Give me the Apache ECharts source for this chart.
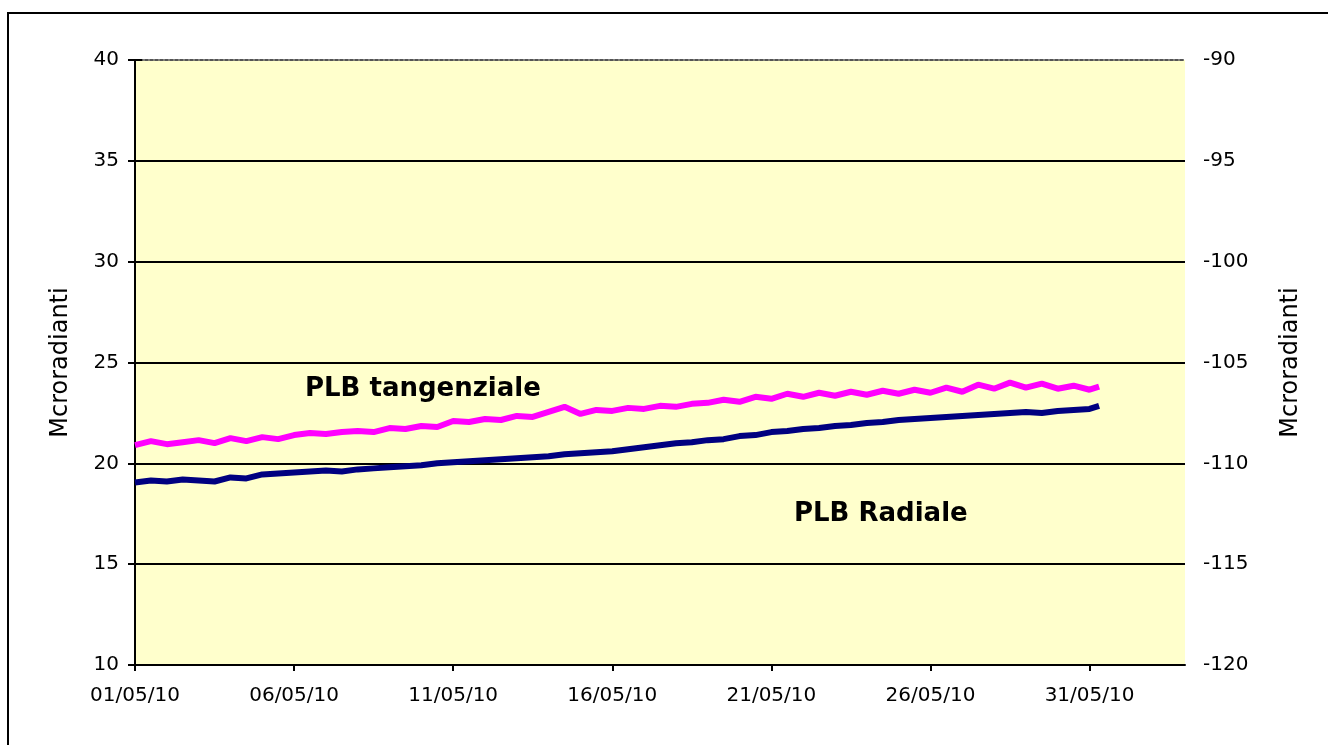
<!DOCTYPE html>
<html>
<head>
<meta charset="utf-8">
<title>PLB</title>
<script src="https://cdn.jsdelivr.net/npm/echarts@6/dist/echarts.min.js"></script>
<style>
  html, body { margin: 0; padding: 0; background: #fff; }
  #chart { width: 1328px; height: 745px; }
</style>
</head>
<body>
<div id="chart"></div>
<script>
// giorni dal 01/05/10 (passo mezza giornata)
var days = [0, 0.5, 1, 1.5, 2, 2.5, 3, 3.5, 4, 4.5, 5, 5.5, 6, 6.5, 7, 7.5, 8, 8.5, 9, 9.5,
  10, 10.5, 11, 11.5, 12, 12.5, 13, 13.5, 14, 14.5, 15, 15.5, 16, 16.5, 17, 17.5, 18, 18.5, 19, 19.5,
  20, 20.5, 21, 21.5, 22, 22.5, 23, 23.5, 24, 24.5, 25, 25.5, 26, 26.5, 27, 27.5, 28, 28.5, 29, 29.5,
  30, 30.3];

// PLB tangenziale (microradianti)
var tangenziale = [20.9, 21.1, 20.95, 21.05, 21.15, 21.0, 21.25, 21.1, 21.3, 21.2, 21.4, 21.5, 21.45, 21.55, 21.6, 21.55, 21.75, 21.7, 21.85, 21.8,
  22.1, 22.05, 22.2, 22.15, 22.35, 22.3, 22.55, 22.8, 22.45, 22.65, 22.6, 22.75, 22.7, 22.85, 22.8, 22.95, 23.0, 23.15, 23.05, 23.3,
  23.2, 23.45, 23.3, 23.5, 23.35, 23.55, 23.4, 23.6, 23.45, 23.65, 23.5, 23.75, 23.55, 23.9, 23.7, 24.0, 23.75, 23.95, 23.7, 23.85,
  23.65, 23.8];

// PLB radiale (microradianti)
var radiale = [19.05, 19.15, 19.1, 19.2, 19.15, 19.1, 19.3, 19.25, 19.45, 19.5, 19.55, 19.6, 19.65, 19.6, 19.7, 19.75, 19.8, 19.85, 19.9, 20.0,
  20.05, 20.1, 20.15, 20.2, 20.25, 20.3, 20.35, 20.45, 20.5, 20.55, 20.6, 20.7, 20.8, 20.9, 21.0, 21.05, 21.15, 21.2, 21.35, 21.4,
  21.55, 21.6, 21.7, 21.75, 21.85, 21.9, 22.0, 22.05, 22.15, 22.2, 22.25, 22.3, 22.35, 22.4, 22.45, 22.5, 22.55, 22.5, 22.6, 22.65,
  22.7, 22.85];

// etichette asse x (ogni 5 giorni)
var xTickLabels = ['01/05/10', '06/05/10', '11/05/10', '16/05/10', '21/05/10', '26/05/10', '31/05/10'];

function pairs(ys) {
  return days.map(function (d, i) { return [d, ys[i]]; });
}

var font = '"DejaVu Sans", Arial, sans-serif';
var labelStyle = { color: '#000', fontSize: 20, fontFamily: font };
var nameStyle = { color: '#000', fontSize: 24, fontFamily: font };

var chart = echarts.init(document.getElementById('chart'));
chart.setOption({
  animation: false,
  backgroundColor: '#fff',
  grid: {
    left: 135, right: 143, top: 60, bottom: 80,
    show: true, backgroundColor: '#FFFFCC', borderWidth: 0
  },
  xAxis: [{
    type: 'value', min: 0, max: 33, interval: 5,
    axisLine: { show: true, lineStyle: { color: '#000', width: 2 } },
    axisTick: { show: true, length: 6, lineStyle: { color: '#000', width: 2 } },
    splitLine: { show: false },
    axisLabel: Object.assign({
      margin: 21, showMaxLabel: false,
      formatter: function (v) { return v % 5 === 0 ? (xTickLabels[v / 5] || '') : ''; }
    }, labelStyle)
  }, {
    // bordo superiore tratteggiato
    type: 'value', min: 0, max: 33, position: 'top',
    axisLine: { show: true, lineStyle: { color: '#555', width: 2, type: [3, 2] } },
    axisTick: { show: false }, axisLabel: { show: false }, splitLine: { show: false }
  }],
  yAxis: [{
    type: 'value', min: 10, max: 40, interval: 5,
    name: 'Mcroradianti', nameLocation: 'middle', nameGap: 62, nameRotate: 90,
    nameTextStyle: nameStyle,
    axisLine: { show: true, lineStyle: { color: '#000', width: 2 } },
    axisTick: { show: true, length: 7, lineStyle: { color: '#000', width: 2 } },
    splitLine: { show: true, showMaxLine: false, lineStyle: { color: '#000', width: 2 } },
    axisLabel: Object.assign({ margin: 16 }, labelStyle)
  }, {
    type: 'value', min: -120, max: -90, interval: 5, position: 'right',
    name: 'Mcroradianti', nameLocation: 'middle', nameGap: 94, nameRotate: 90,
    nameTextStyle: nameStyle,
    axisLine: { show: true, lineStyle: { color: '#000', width: 2 } },
    axisTick: { show: true, length: 7, lineStyle: { color: '#000', width: 2 } },
    splitLine: { show: false },
    axisLabel: Object.assign({ margin: 18 }, labelStyle)
  }],
  graphic: [
    { type: 'rect', shape: { x: 8, y: 13, width: 1400, height: 800 }, style: { fill: 'none', stroke: '#000', lineWidth: 2 }, z: -1 },
    { type: 'text', left: 305, top: 376, style: { text: 'PLB tangenziale', font: 'bold 26px ' + font, fill: '#000' } },
    { type: 'text', left: 794, top: 501, style: { text: 'PLB Radiale', font: 'bold 26px ' + font, fill: '#000' } }
  ],
  series: [{
    name: 'PLB tangenziale', type: 'line', data: pairs(tangenziale),
    showSymbol: false, lineStyle: { color: '#FF00FF', width: 6 }, itemStyle: { color: '#FF00FF' }
  }, {
    name: 'PLB Radiale', type: 'line', data: pairs(radiale),
    showSymbol: false, lineStyle: { color: '#000080', width: 6 }, itemStyle: { color: '#000080' }
  }]
});
</script>
</body>
</html>
